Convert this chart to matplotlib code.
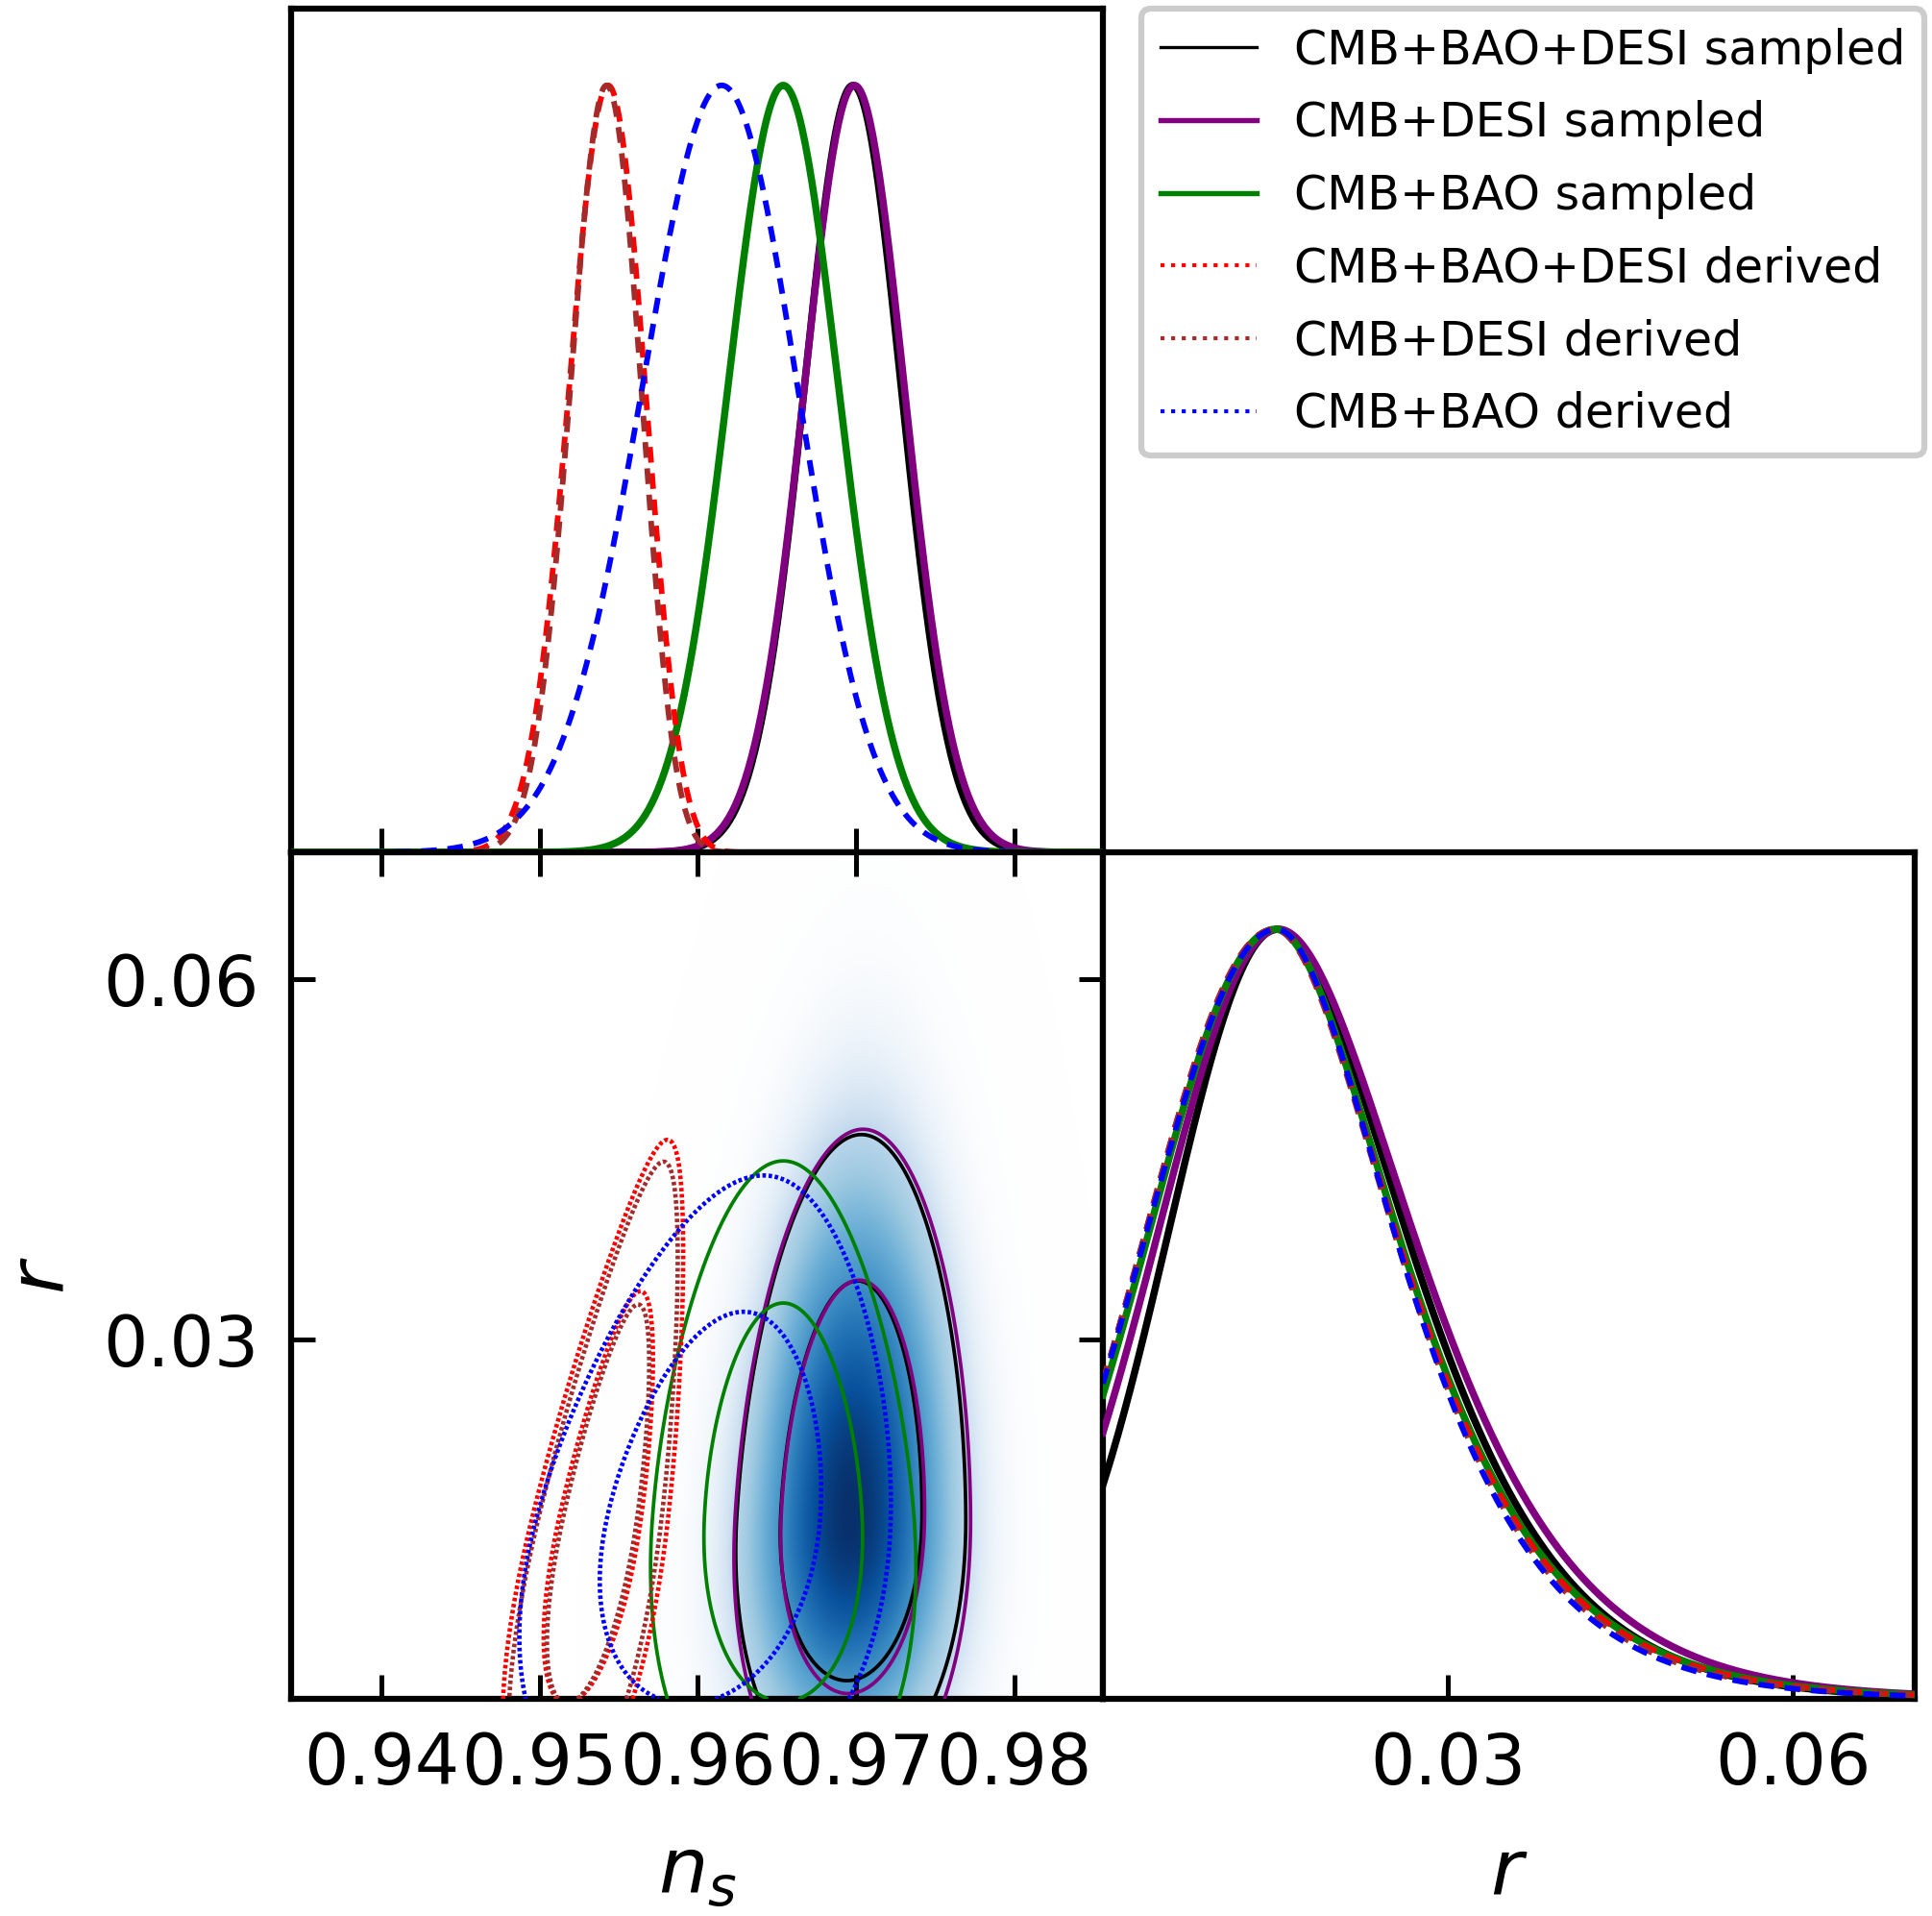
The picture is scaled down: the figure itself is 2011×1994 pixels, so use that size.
import numpy as np
import matplotlib
matplotlib.use("Agg")
import matplotlib.pyplot as plt
from matplotlib.lines import Line2D

# chains, in legend order
labels = ["CMB+BAO+DESI sampled", "CMB+DESI sampled", "CMB+BAO sampled",
          "CMB+BAO+DESI derived", "CMB+DESI derived", "CMB+BAO derived"]
colors = ["black", "purple", "green", "red", "brown", "blue"]
derived = [False, False, False, True, True, True]

# posterior summaries
ns_centre = [0.9697, 0.9698, 0.9654, 0.9538, 0.9538, 0.9610]   # n_s at the r peak
ns_width = [0.0031, 0.0032, 0.0036, 0.0019, 0.00172, 0.0049]   # spread of n_s at the r peak
ns_narrow = [0.1, 0.1, 0.2, 0.35, 0.35, 0.25]                  # spread shrinks as r grows
ns_slope = [0.02, 0.02, 0.0, 0.135, 0.135, 0.11]               # tilt dn_s/dr
r_peak = [0.0152, 0.0153, 0.0150, 0.0149, 0.0149, 0.0151]
r_left = [0.0095, 0.0105, 0.0110, 0.0112, 0.0112, 0.0113]      # width below the peak
r_shift = [0.015, 0.015, 0.008, 0.008, 0.008, 0.008]           # 1D upper tail shape
r_tail = [0.315, 0.326, 0.38, 0.38, 0.375, 0.367]
r_right_2d = [0.01365, 0.01386, 0.0130, 0.0140, 0.0132, 0.0125]  # upper width, contours

ns_ticks = [0.94, 0.95, 0.96, 0.97, 0.98]
r_ticks = [0.03, 0.06]
ns_lim = (0.9343, 0.9856)
r_lim = (0.0, 0.0706)

ns_grid = np.linspace(0.90, 1.02, 1201)
r_grid = np.linspace(0.0, 0.12, 901)


def r_profile_1d(r, i):
    pk, c = r_peak[i], r_shift[i]
    left = np.exp(-0.5 * ((r - pk) / r_left[i]) ** 2)
    right = np.exp(-0.5 * (np.log((r + c) / (pk + c)) / r_tail[i]) ** 2)
    return np.where(r < pk, left, right)


def r_profile_2d(r, i):
    pk = r_peak[i]
    width = np.where(r < pk, r_left[i], r_right_2d[i])
    return np.exp(-0.5 * ((r - pk) / width) ** 2)


def density_2d(i):
    NS, R = np.meshgrid(ns_grid, r_grid)
    mean = ns_centre[i] + ns_slope[i] * (R - r_peak[i])
    spread = ns_width[i] * np.clip(1 - ns_narrow[i] * (R - r_peak[i]) / 0.03, 0.3, None)
    return r_profile_2d(R, i) * np.exp(-0.5 * ((NS - mean) / spread) ** 2)


def hpd_levels(P, fracs=(0.95, 0.68)):
    flat = np.sort(P.ravel())[::-1]
    cum = np.cumsum(flat) / flat.sum()
    return [flat[np.searchsorted(cum, f)] for f in fracs]


plt.rcParams["axes.linewidth"] = 1.5
plt.rcParams["mathtext.fontset"] = "dejavusans"

W, H = 2011, 1994
fig = plt.figure(figsize=(W / 300, H / 300), dpi=300)
L, M, R = 303 / W, 1148 / W, 1993 / W
T, C, B = 1 - 9 / H, 1 - 887 / H, 1 - 1768 / H
ax_top = fig.add_axes([L, C, M - L, T - C])
ax_2d = fig.add_axes([L, B, M - L, C - B])
ax_r = fig.add_axes([M, B, R - M, C - B])

tick_kw = dict(direction="in", length=6, width=1.2, labelsize=17.5, pad=8)

# shaded density of the first chain, fading out in the tails
P0 = density_2d(0)
v = (P0 / P0.max()) ** 0.45
rgba = plt.get_cmap("Blues")(v)
rgba[..., 3] = np.clip(v / 0.3, 0, 1)
ax_2d.imshow(rgba, extent=(ns_grid[0], ns_grid[-1], r_grid[0], r_grid[-1]),
             origin="lower", aspect="auto", interpolation="bilinear", zorder=0)

for i in range(len(labels)):
    P = density_2d(i)
    ls = [(0, (0.8, 0.6))] * 2 if derived[i] else ["solid"] * 2
    ax_2d.contour(ns_grid, r_grid, P, levels=hpd_levels(P), colors=colors[i],
                  linewidths=1.1 if derived[i] else 0.9, linestyles=ls, zorder=2 + i)

    ns_1d = P.sum(axis=0)
    ns_1d = ns_1d / ns_1d.max()
    r_1d = r_profile_1d(r_grid, i)
    r_1d = r_1d / r_1d.max()
    if derived[i]:
        kw = dict(lw=1.4, dashes=(2.8, 1.9))
    else:
        kw = dict(lw=1.8)
    ax_top.plot(ns_grid, ns_1d, color=colors[i], zorder=2 + i, **kw)
    ax_r.plot(r_grid, r_1d, color=colors[i], zorder=2 + i, **kw)

ax_top.set_xlim(ns_lim)
ax_top.set_ylim(0, 1.1)
ax_top.set_xticks(ns_ticks)
ax_top.set_yticks([])
ax_top.tick_params(axis="x", labelbottom=False, **tick_kw)

ax_2d.set_xlim(ns_lim)
ax_2d.set_ylim(r_lim)
ax_2d.set_xticks(ns_ticks)
ax_2d.set_yticks(r_ticks)
ax_2d.set_xticklabels([f"{t:.2f}" for t in ns_ticks])
ax_2d.set_yticklabels([f"{t:.2f}" for t in r_ticks])
ax_2d.tick_params(top=True, right=True, **tick_kw)
ax_2d.set_xlabel("$n_s$", fontsize=19.5, labelpad=9)
ax_2d.set_ylabel("$r$", fontsize=19.5, labelpad=6)

ax_r.set_xlim(r_lim)
ax_r.set_ylim(0, 1.1)
ax_r.set_xticks(r_ticks)
ax_r.set_xticklabels([f"{t:.2f}" for t in r_ticks])
ax_r.set_yticks([])
ax_r.tick_params(axis="x", **tick_kw)
ax_r.set_xlabel("$r$", fontsize=19.5, labelpad=9)

handles = []
for i in range(len(labels)):
    if derived[i]:
        handles.append(Line2D([], [], color=colors[i], lw=1.0, ls=":"))
    else:
        handles.append(Line2D([], [], color=colors[i], lw=0.8 if i == 0 else 1.3))
leg = fig.legend(handles, labels, loc="upper right", bbox_to_anchor=(2003 / W, T),
                 fontsize=11.75, handlelength=2.05, handletextpad=0.8,
                 labelspacing=0.565, borderpad=0.4, borderaxespad=0,
                 fancybox=True, framealpha=1, edgecolor="0.8")
leg.get_frame().set_linewidth(1.5)

fig.savefig("out.png", dpi=300)
